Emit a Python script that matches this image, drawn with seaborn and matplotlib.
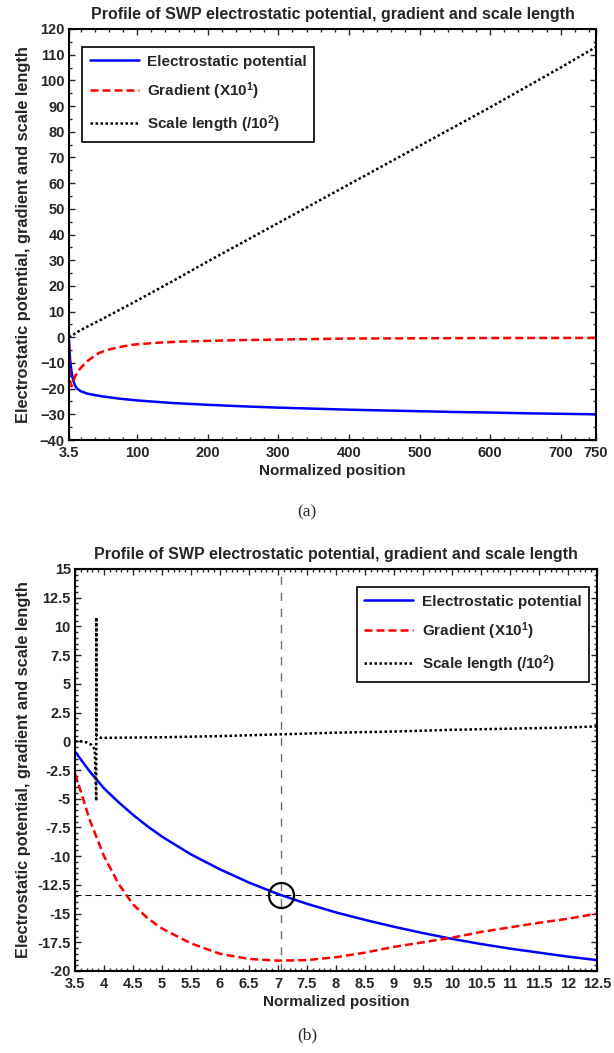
import matplotlib
matplotlib.use("Agg")
import matplotlib.pyplot as plt
from matplotlib.ticker import MultipleLocator, FixedLocator
import seaborn as sns
import pandas as pd

# ---------------- data: panel (a) ----------------
pos_pot_a = [3.5, 4, 5, 6, 7, 8, 10, 12.5, 15, 20, 30, 50, 75, 100, 150, 200, 250,
             300, 350, 400, 450, 500, 550, 600, 650, 700, 750]
pot_a = [-0.9, -4.1, -8.3, -11.15, -13.3, -14.9, -17.2, -19.05, -20.0, -21.0, -22.0, -23.0,
         -23.9, -24.6, -25.6, -26.3, -26.9, -27.4, -27.8, -28.2, -28.5, -28.8, -29.1,
         -29.3, -29.6, -29.8, -30.0]
pos_grad_a = [3.5, 3.75, 4, 4.5, 5, 6, 7, 8, 10, 12.5, 15, 19, 25, 30, 40, 47, 60, 75, 94,
              125, 160, 200, 250, 300, 350, 400, 500, 600, 750]
grad_a = [-2.8, -6.8, -10.0, -14.2, -16.3, -18.5, -19.1, -18.8, -17.1, -15.0, -14.0, -12.3,
          -10.5, -9.2, -7.2, -6.0, -4.8, -3.8, -2.9, -2.2, -1.7, -1.4, -1.1, -0.9, -0.7,
          -0.5, -0.4, -0.3, -0.25]
pos_scale_a = [3.5, 20, 50, 100, 150, 200, 300, 400, 500, 600, 700, 750]
scale_a = [0.0, 2.8, 7.0, 14.3, 21.8, 29.5, 44.5, 59.5, 74.5, 89.5, 105.0, 113.0]

# ---------------- data: panel (b) ----------------
pos_pot_b = [3.5, 3.75, 4, 4.25, 4.5, 4.75, 5, 5.5, 6, 6.5, 7, 7.5, 8, 8.5, 9, 9.5, 10,
             10.5, 11, 11.5, 12, 12.5]
pot_b = [-0.9, -2.6, -4.1, -5.3, -6.4, -7.4, -8.3, -9.85, -11.15, -12.3, -13.3, -14.15,
         -14.9, -15.55, -16.15, -16.7, -17.2, -17.65, -18.05, -18.4, -18.75, -19.05]
pos_grad_b = [3.5, 3.64, 3.75, 4, 4.25, 4.5, 4.75, 5, 5.5, 6, 6.5, 7, 7.5, 8, 8.5, 9, 9.5,
              10, 10.5, 11, 11.5, 12, 12.5]
grad_b = [-2.8, -5.0, -6.8, -10.0, -12.4, -14.2, -15.4, -16.3, -17.6, -18.5, -18.95, -19.1,
          -19.05, -18.8, -18.4, -17.9, -17.5, -17.1, -16.6, -16.2, -15.8, -15.45, -15.0]
pos_scale_b = [3.5, 3.6, 3.7, 3.78, 3.84, 3.866, 3.868, 3.872, 3.9, 3.95, 4.0, 5, 6, 7, 8,
               9, 10, 11, 12, 12.5]
scale_b = [0.0, 0.0, -0.1, -0.3, -0.7, -5.2, 10.8, 0.5, 0.4, 0.3, 0.3, 0.35, 0.45, 0.6,
           0.75, 0.85, 1.0, 1.1, 1.2, 1.3]
marker_x = 7.05
marker_y = -13.4

labels = ["Electrostatic potential", "Gradient (X10$^{1}$)", "Scale length (/10$^{2}$)"]
title = "Profile of SWP electrostatic potential, gradient and scale length"
ylab = "Electrostatic potential, gradient and scale length"
xlab = "Normalized position"
xticks_a = [3.5, 100, 200, 300, 400, 500, 600, 700, 750]
xticklabels_a = ["3.5", "100", "200", "300", "400", "500", "600", "700", "750"]

sns.set_style("ticks")
plt.rcParams["font.family"] = ["Liberation Sans", "DejaVu Sans"]
plt.rcParams["font.weight"] = "bold"
plt.rcParams["mathtext.default"] = "bf"
plt.rcParams["mathtext.fontset"] = "custom"
plt.rcParams["mathtext.bf"] = "Liberation Sans:bold"
plt.rcParams["mathtext.rm"] = "Liberation Sans:bold"

fig = plt.figure(figsize=(6.14, 10.53), dpi=100)
ax1 = fig.add_axes([69 / 614, 1 - 440 / 1053, 527 / 614, 411 / 1053])
ax2 = fig.add_axes([75 / 614, 1 - 971 / 1053, 522 / 614, 402 / 1053])

lw = 1.8
styles = [dict(color="#0000ff", linestyle="-"),
          dict(color="#ff0000", linestyle=(0, (3.2, 1.6))),
          dict(color="black", linestyle=(0, (1, 1)))]


def draw(ax, sets):
    for (x, y), lab, st in zip(sets, labels, styles):
        df = pd.DataFrame({"x": x, "y": y})
        sns.lineplot(data=df, x="x", y="y", ax=ax, estimator=None, sort=False,
                     label=lab, linewidth=lw, **st)


draw(ax1, [(pos_pot_a, pot_a), (pos_grad_a, grad_a), (pos_scale_a, scale_a)])
draw(ax2, [(pos_pot_b, pot_b), (pos_grad_b, grad_b), (pos_scale_b, scale_b)])

# crosshair + circle on panel (b)
ax2.axvline(marker_x, color="#6e6e6e", linestyle=(0, (5.8, 5.8)), linewidth=1.0, zorder=1)
ax2.axhline(marker_y, color="black", linestyle=(0, (5.8, 3.8)), linewidth=0.75, zorder=1)
ax2.plot([marker_x], [marker_y], marker="o", markersize=18, markerfacecolor="none",
         markeredgecolor="black", markeredgewidth=1.6, linestyle="none")

# axes limits and ticks
ax1.set_xlim(3.5, 750)
ax1.set_ylim(-40, 120)
ax1.xaxis.set_major_locator(FixedLocator(xticks_a))
ax1.set_xticklabels(xticklabels_a)
ax1.xaxis.set_minor_locator(MultipleLocator(20))
ax1.yaxis.set_major_locator(MultipleLocator(10))
ax1.yaxis.set_minor_locator(MultipleLocator(5))

ax2.set_xlim(3.5, 12.5)
ax2.set_ylim(-20, 15)
ax2.xaxis.set_major_locator(MultipleLocator(0.5))
ax2.xaxis.set_minor_locator(MultipleLocator(0.1))
ax2.yaxis.set_major_locator(MultipleLocator(2.5))
ax2.yaxis.set_minor_locator(MultipleLocator(0.5))
ax2.xaxis.set_major_formatter(plt.FuncFormatter(lambda v, p: f"{v:g}"))
ax2.yaxis.set_major_formatter(plt.FuncFormatter(lambda v, p: f"{v:g}"))

for ax, xc in ((ax1, -0.072), (ax2, -0.084)):
    ax.set_title(title, fontsize=11.5, fontweight="bold", pad=7)
    ax.set_xlabel(xlab, fontsize=11, fontweight="bold", labelpad=3)
    ax.set_ylabel(ylab, fontsize=11.8, fontweight="bold")
    ax.yaxis.set_label_coords(xc, 0.5)
    ax.tick_params(which="both", direction="in", top=True, right=True, width=1.0,
                   labelsize=10.5)
    ax.tick_params(axis="x", pad=4)
    ax.tick_params(axis="y", pad=3)
    ax.tick_params(which="major", length=4)
    ax.tick_params(which="minor", length=2.2)
    for lbl in ax.get_xticklabels() + ax.get_yticklabels():
        lbl.set_fontweight("bold")
    for s in ax.spines.values():
        s.set_linewidth(1.5)
        s.set_color("black")

leg_kw = dict(fontsize=11, frameon=True, fancybox=False, edgecolor="black",
              handlelength=3.2, borderpad=0.5, labelspacing=0.75, handletextpad=0.55,
              borderaxespad=0)
leg1 = ax1.legend(loc="upper left", bbox_to_anchor=(13 / 527, 1 - 18 / 411), **leg_kw)
leg2 = ax2.legend(loc="upper right", bbox_to_anchor=(1 - 8 / 522, 1 - 18 / 402), **leg_kw)
for leg in (leg1, leg2):
    leg.get_frame().set_linewidth(1.2)
    leg.get_frame().set_alpha(1)
    for t in leg.get_texts():
        t.set_fontweight("bold")

fig.text(307 / 614, 1 - 512 / 1053, "(a)", ha="center", va="center",
         family="Liberation Serif", fontweight="normal", fontsize=12.5)
fig.text(307 / 614, 1 - 1035 / 1053, "(b)", ha="center", va="center",
         family="Liberation Serif", fontweight="normal", fontsize=12.5)

fig.savefig("out.png", dpi=100)
